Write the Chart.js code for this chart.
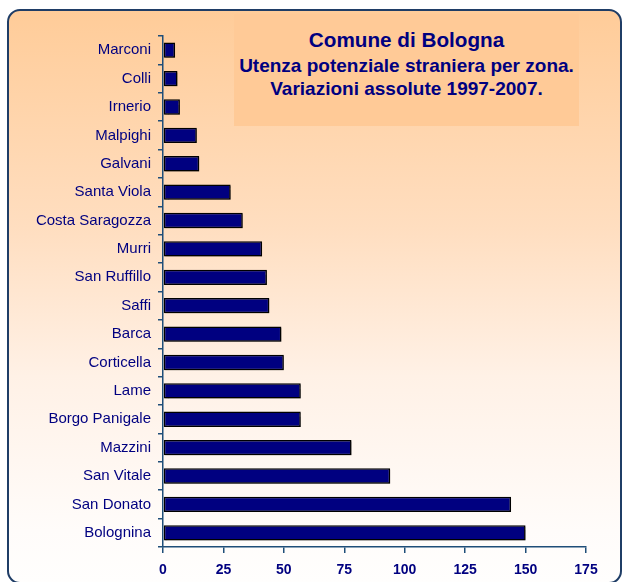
<!DOCTYPE html>
<html>
<head>
<meta charset="utf-8">
<script src="https://cdn.jsdelivr.net/npm/chart.js@4/dist/chart.umd.min.js"></script>
<style>
  html, body { margin:0; padding:0; background:#ffffff; }
  body { width:622px; height:582px; overflow:hidden; position:relative; font-family:"Liberation Sans", Arial, sans-serif; }
  #frame { position:absolute; left:7px; top:9px; width:611px; height:571px; border:2px solid #1F3D66; border-radius:13px;
    background:linear-gradient(to bottom, #FFCC99 0%, #FFDEC0 38%, #FFF1E6 64%, #FFFCFA 91%, #FFFEFD 100%); }
  #titlebox { position:absolute; left:234px; top:14px; width:345px; height:112px; background:#FFCA97; color:#000080; text-align:center; font-weight:bold; }
  #titlebox div { position:absolute; left:0; width:100%; height:24px; line-height:24px; white-space:nowrap; }
  #chart { position:absolute; left:0; top:0; }
</style>
</head>
<body>
<div id="frame"></div>
<div id="titlebox">
  <div id="t1" style="top:14px;font-size:20.7px;">Comune di Bologna</div>
  <div id="t2" style="top:39.7px;font-size:19px;">Utenza potenziale straniera per zona.</div>
  <div id="t3" style="top:63.3px;font-size:19px;">Variazioni assolute 1997-2007.</div>
</div>
<canvas id="chart" width="622" height="582"></canvas>
<script>
const zones = ["Marconi","Colli","Irnerio","Malpighi","Galvani","Santa Viola","Costa Saragozza","Murri","San Ruffillo","Saffi","Barca","Corticella","Lame","Borgo Panigale","Mazzini","San Vitale","San Donato","Bolognina"];
const variazioni = [5,6,7,14,15,28,33,41,43,44,49,50,57,57,78,94,144,150];
const xMin = 0, xMax = 175, xStep = 25;

const axisColor = "#1F4E79";
const textColor = "#000080";
const fontFam = "'Liberation Sans', Arial, sans-serif";

const shadowPlugin = {
  id: "barShadow",
  beforeDatasetsDraw(chart) {
    const ctx = chart.ctx;
    ctx.save();
    ctx.shadowColor = "rgba(0,0,0,0.35)";
    ctx.shadowOffsetX = 1.5;
    ctx.shadowOffsetY = 1.5;
    ctx.shadowBlur = 1;
  },
  afterDatasetsDraw(chart) { chart.ctx.restore(); }
};

new Chart(document.getElementById("chart"), {
  type: "bar",
  data: {
    labels: zones,
    datasets: [{
      data: variazioni,
      backgroundColor: "#000080",
      borderColor: "#000000",
      borderWidth: 1.5,
      borderSkipped: false,
      categoryPercentage: 1,
      barPercentage: 0.54
    }]
  },
  options: {
    indexAxis: "y",
    responsive: false,
    animation: false,
    layout: { padding: { left: 0, right: 36, top: 36, bottom: 0 } },
    plugins: { legend: { display: false }, tooltip: { enabled: false }, title: { display: false } },
    scales: {
      x: {
        min: xMin, max: xMax,
        ticks: { stepSize: xStep, color: textColor, font: { family: fontFam, size: 14, weight: "bold" }, padding: 9, maxRotation: 0 },
        grid: { drawOnChartArea: false, drawTicks: true, tickLength: 6, color: axisColor, lineWidth: 1.5 },
        border: { color: axisColor, width: 1.5 },
        afterFit(scale) { scale.height = 582 - 547; }
      },
      y: {
        ticks: { color: textColor, font: { family: fontFam, size: 15 }, padding: 7, autoSkip: false },
        grid: { drawOnChartArea: false, drawTicks: true, tickLength: 5, color: axisColor, lineWidth: 1.5, offset: true },
        border: { color: axisColor, width: 1.5 },
        afterFit(scale) { scale.width = 163; }
      }
    }
  },
  plugins: [shadowPlugin]
});
</script>
</body>
</html>
